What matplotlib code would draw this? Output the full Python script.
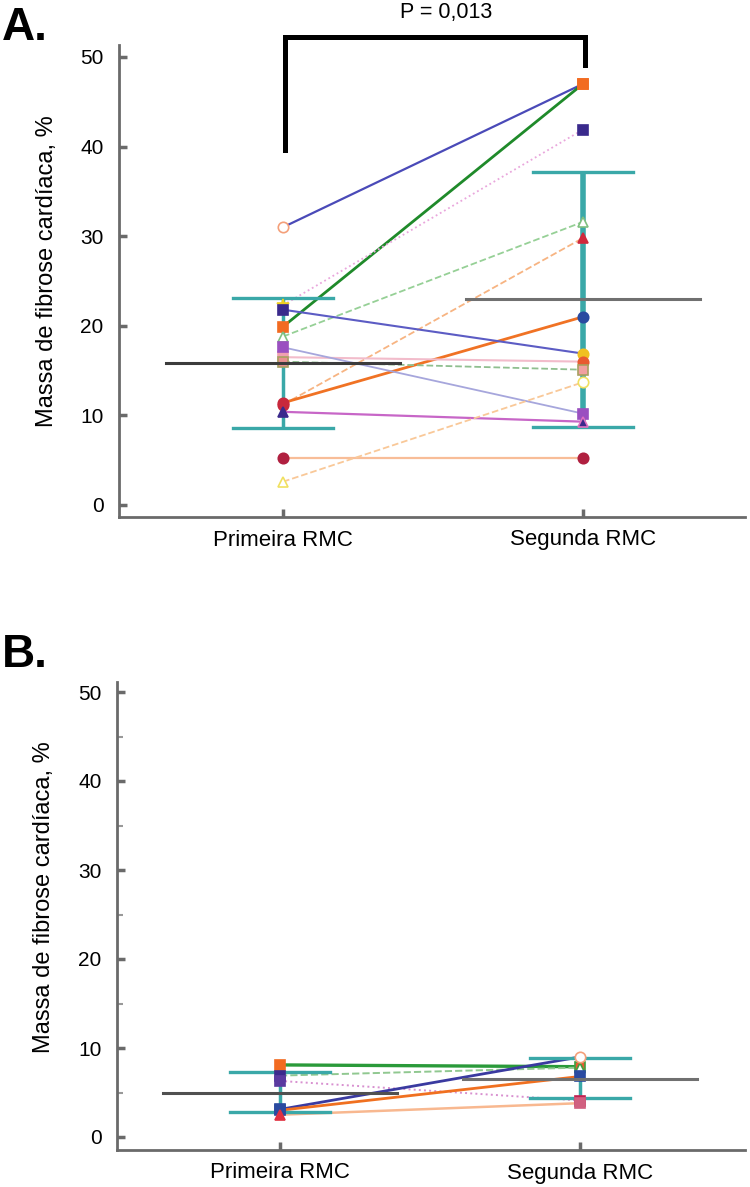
import matplotlib
matplotlib.use("Agg")
import matplotlib.pyplot as plt
from matplotlib.ticker import MultipleLocator
from matplotlib import font_manager

# ---------------- data ----------------
groups = ["Primeira RMC", "Segunda RMC"]
y_ticks = [0, 10, 20, 30, 40, 50]

# Panel A (individual patients)
a_first = [31.0, 19.9, 22.3, 18.8, 11.2, 11.4, 21.8, 16.5, 16.0, 17.6, 10.4, 5.2, 2.6]
a_second = [47.0, 47.0, 41.9, 31.6, 29.8, 21.0, 16.9, 16.0, 15.1, 10.2, 9.3, 5.2, 13.7]
a_mean = [15.9, 23.0]
a_err_low = [8.6, 8.7]
a_err_high = [23.1, 37.2]
p_text = "P = 0,013"

# Panel B
b_first = [8.1, 6.9, 6.3, 3.1, 3.0, 2.5]
b_second = [7.9, 7.8, 4.1, 9.0, 6.8, 3.8]
b_mean = [4.95, 6.5]
b_err_low = [2.8, 4.35]
b_err_high = [7.25, 8.9]

# ---------------- styles ----------------
a_line_col = ["#4a4ab8", "#1f8a2a", "#e9a6dc", "#96d096", "#f7b482", "#f07224",
              "#5c5cc4", "#f2bccb", "#8fbf8f", "#a6a6dc", "#c766c7", "#f8bd98", "#f9c898"]
a_line_ls = ["-", "-", ":", "--", "--", "-", "-", "-", "--", "-", "-", "-", "--"]
a_line_lw = [1.6, 2.0, 1.3, 1.3, 1.3, 2.0, 1.5, 1.5, 1.3, 1.3, 1.6, 1.6, 1.3]
a_m1 = [("o", "white", "#f4a07a"), ("s", "#f26b21", "#f26b21"), ("*", "#f0d020", "#f0d020"),
        ("^", "white", "#80c080"), ("o", "#c8283c", "#c8283c"), ("o", "#c8283c", "#c8283c"),
        ("s", "#3a2a8c", "#3a2a8c"), ("s", "#f0a0b0", "#f0a0b0"), ("s", "#e89090", "#a8a060"),
        ("s", "#9a50c0", "#9a50c0"), ("^", "#3a2a8c", "#3a2a8c"), ("o", "#b02040", "#b02040"),
        ("^", "white", "#f0e060")]
a_m2 = [("s", "#f26b21", "#f26b21"), ("s", "#f26b21", "#f26b21"), ("s", "#3a2a8c", "#3a2a8c"),
        ("^", "white", "#80c080"), ("^", "#d0293c", "#d0293c"), ("o", "#2a4aa0", "#2a4aa0"),
        ("o", "#f0c020", "#f0c020"), ("o", "#e85a30", "#e85a30"), ("s", "#f0a0a0", "#a8a060"),
        ("s", "#9a50c0", "#9a50c0"), ("^", "#3a2a8c", "#e070c0"), ("o", "#b02040", "#b02040"),
        ("o", "white", "#f0e060")]

b_line_col = ["#2a9a3a", "#90c890", "#d890d0", "#3a3aa0", "#f07020", "#f8b890"]
b_line_ls = ["-", "--", ":", "-", "-", "-"]
b_line_lw = [2.4, 1.4, 1.4, 2.0, 2.0, 1.8]
b_m1 = [("s", "#f26b21", "#f26b21"), ("s", "#3a2a8c", "#3a2a8c"), ("s", "#5a3aa0", "#5a3aa0"),
        ("s", "#2a4aa0", "#2a4aa0"), ("s", "#2a4aa0", "#2a4aa0"), ("^", "#e03040", "#e03040")]
b_m2 = [("s", "#e85a30", "#40a040"), ("^", "white", "#40a040"), ("s", "#c02050", "#c02050"),
        ("o", "white", "#f4a07a"), ("s", "#2a4aa0", "#2a4aa0"), ("s", "#d06080", "#d06080")]

TEAL = "#3aa8a8"
GRAY = "#6a6a6a"
_names = {f.name for f in font_manager.fontManager.ttflist}
REG = "Liberation Sans" if "Liberation Sans" in _names else "DejaVu Sans"
NARROW = "Liberation Sans Narrow" if "Liberation Sans Narrow" in _names else REG
narrow_size = 18.5 if NARROW == "Liberation Sans Narrow" else 16

fig = plt.figure(figsize=(7.5, 11.87), dpi=100)
W, H = 750, 1187


def make_axes(left, right, top, bottom):
    return fig.add_axes([left / W, 1 - bottom / H, (right - left) / W, (bottom - top) / H])


def style_axes(ax, xlim, ylim, minor, label_y):
    ax.set_xlim(*xlim)
    ax.set_ylim(*ylim)
    for s in ["top", "right"]:
        ax.spines[s].set_visible(False)
    for s in ["left", "bottom"]:
        ax.spines[s].set_color(GRAY)
        ax.spines[s].set_linewidth(2)
    ax.set_xticks([1, 2])
    ax.set_xticklabels(groups, fontfamily=NARROW, fontsize=narrow_size)
    ax.set_yticks(y_ticks)
    ax.set_yticklabels([str(t) for t in y_ticks], fontfamily=REG, fontsize=15)
    ax.tick_params(axis="both", direction="in", color=GRAY, width=2.5, length=6)
    ax.tick_params(axis="y", pad=11)
    ax.tick_params(axis="x", pad=9)
    if minor:
        ax.yaxis.set_minor_locator(MultipleLocator(5))
        ax.tick_params(axis="y", which="minor", direction="in", color="#999999",
                       width=1.5, length=4)
    ax.set_ylabel("Massa de fibrose cardíaca, %", fontfamily=REG, fontsize=17)
    ax.yaxis.set_label_coords(-0.098, label_y)


def draw_panel(ax, first, second, lcol, lls, llw, m1, m2, mean, elo, ehi, ev_lw, mean_col):
    for i in range(len(first)):
        ax.plot([1, 2], [first[i], second[i]], color=lcol[i], ls=lls[i], lw=llw[i],
                zorder=2)
    for j in range(2):
        ax.plot([j + 1, j + 1], [elo[j], ehi[j]], color=TEAL, lw=ev_lw[j], zorder=3,
                solid_capstyle="butt")
        for yv in (elo[j], ehi[j]):
            ax.plot([j + 1 - 0.167, j + 1 + 0.167], [yv, yv], color=TEAL, lw=2.4, zorder=3)
    for i in range(len(first)):
        for xv, yv, (mk, fc, ec) in ((1, first[i], m1[i]), (2, second[i], m2[i])):
            ax.plot([xv], [yv], marker=mk, ms=7.5 if mk != "*" else 8.5, mfc=fc, mec=ec,
                    mew=1.2, ls="none", zorder=4)
    for j in range(2):
        ax.plot([j + 1 - 0.39, j + 1 + 0.39], [mean[j], mean[j]], color=mean_col[j],
                lw=2.2, zorder=5)


# ---------------- Panel A ----------------
axA = make_axes(119, 745, 45, 517)
style_axes(axA, (1 - 164 / 300, 2 + 162 / 300), ((505 - 517) / 8.96, (505 - 45) / 8.96),
           False, 0.52)
draw_panel(axA, a_first, a_second, a_line_col, a_line_ls, a_line_lw, a_m1, a_m2,
           a_mean, a_err_low, a_err_high, [2.5, 4.0], ["#3c3c3c", "#707070"])
axA.plot([1.007, 1.007, 2.007, 2.007], [39.6, 52.2, 52.2, 49.1], color="black", lw=3.6,
         clip_on=False, solid_joinstyle="miter", zorder=6)
axA.text(1.543, (505 - 18) / 8.96, p_text, ha="center", va="baseline", fontsize=15.5,
         fontfamily=REG, clip_on=False)

# ---------------- Panel B ----------------
axB = make_axes(117, 745, 682, 1150)
style_axes(axB, (1 - 163 / 300, 2 + 165 / 300), ((1137 - 1150) / 8.9, (1137 - 682) / 8.9),
           True, 0.54)
draw_panel(axB, b_first, b_second, b_line_col, b_line_ls, b_line_lw, b_m1, b_m2,
           b_mean, b_err_low, b_err_high, [2.5, 2.5], ["#505050", "#707070"])

fig.text(0.003, 1 - 40 / H, "A.", fontsize=33, fontweight="bold", fontfamily=NARROW,
         ha="left", va="baseline")
fig.text(0.003, 1 - 667 / H, "B.", fontsize=33, fontweight="bold", fontfamily=NARROW,
         ha="left", va="baseline")

fig.savefig("out.png", dpi=100)
